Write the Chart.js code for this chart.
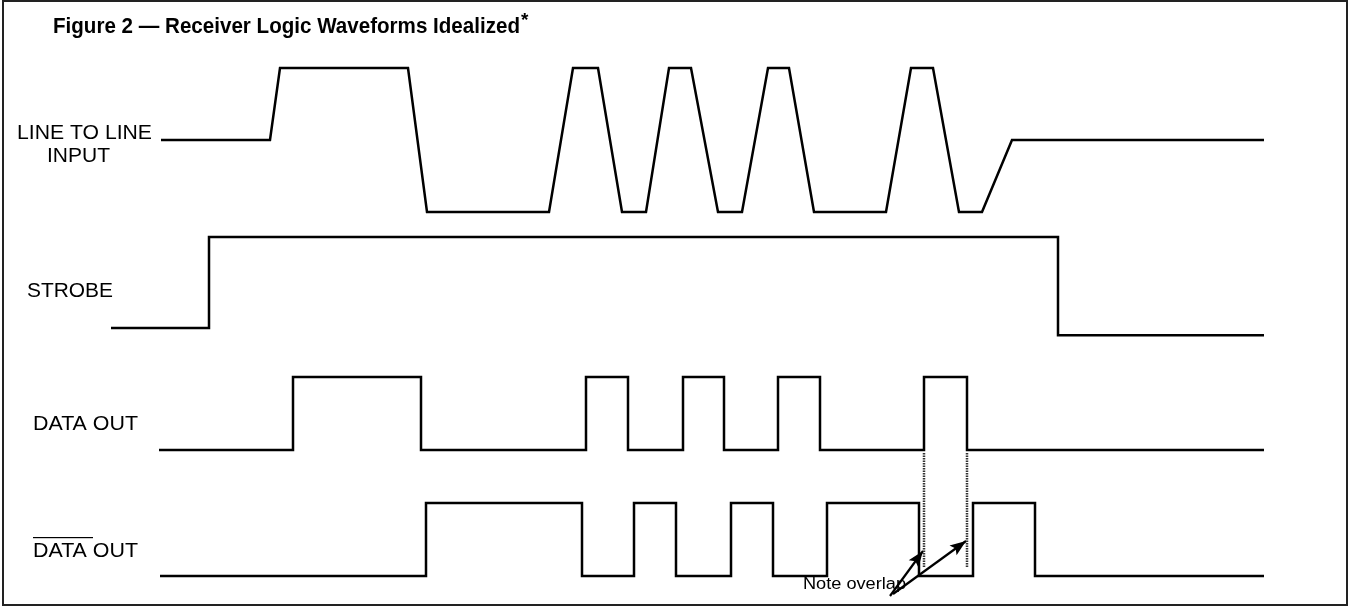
<!DOCTYPE html>
<html>
<head>
<meta charset="utf-8">
<script src="https://cdn.jsdelivr.net/npm/chart.js@4"></script>
<style>
    body { margin: 0; background: #fff; }
    #wrap { width: 1350px; height: 608px; }
</style>
</head>
<body>
<div id="wrap"><canvas id="wave" width="1350" height="608"></canvas></div>
<script>
// ===== Data (time units along x, logic level 0 = low, 1 = high) =====
const lineTimes   = [161, 270, 280, 408, 427, 549, 573, 598, 622, 646, 669, 691, 718, 742, 768, 789, 814, 886, 911, 933, 959, 982, 1012, 1264];
const lineLevels  = [0.5, 0.5, 1, 1, 0, 0, 1, 1, 0, 0, 1, 1, 0, 0, 1, 1, 0, 0, 1, 1, 0, 0, 0.5, 0.5];

const strobeTimes  = [111, 209, 209, 1058, 1058, 1264];
const strobeLevels = [0, 0, 1, 1, -0.08, -0.08];

const dataTimes  = [159, 293, 293, 421, 421, 586, 586, 628, 628, 683, 683, 724, 724, 778, 778, 820, 820, 924, 924, 967, 967, 1264];
const dataLevels = [0, 0, 1, 1, 0, 0, 1, 1, 0, 0, 1, 1, 0, 0, 1, 1, 0, 0, 1, 1, 0, 0];

const dataBarTimes  = [160, 426, 426, 582, 582, 634, 634, 676, 676, 731, 731, 773, 773, 827, 827, 919, 919, 973, 973, 1035, 1035, 1264];
const dataBarLevels = [0, 0, 1, 1, 0, 0, 1, 1, 0, 0, 1, 1, 0, 0, 1, 1, 0, 0, 1, 1, 0, 0];

// overlap markers (dotted) and the two arrows pointing at them
const overlapTimes = [924, 967];
const arrowFrom = [[890, 596], [893, 594]];
const arrowTo   = [[923, 551], [966, 541]];

const rowLabels = ["LINE TO LINE", "INPUT", "STROBE", "DATA OUT", "DATA OUT"];
const titleText = "Figure 2 \u2014 Receiver Logic Waveforms Idealized";
const noteText = "Note overlap";

// ===== Layout =====
const rows = {
    line:    { base: 212, amp: 144 },
    strobe:  { base: 328, amp: 91 },
    data:    { base: 450, amp: 73 },
    dataBar: { base: 576, amp: 73 }
};

function toPoints(times, levels, row) {
    return times.map((t, i) => ({ x: t, y: row.base - levels[i] * row.amp }));
}

function wave(points) {
    return {
        data: points,
        showLine: true,
        borderColor: "#000",
        borderWidth: 2.5,
        pointRadius: 0,
        tension: 0,
        fill: false
    };
}

const datasets = [
    wave(toPoints(lineTimes, lineLevels, rows.line)),
    wave(toPoints(strobeTimes, strobeLevels, rows.strobe)),
    wave(toPoints(dataTimes, dataLevels, rows.data)),
    wave(toPoints(dataBarTimes, dataBarLevels, rows.dataBar))
];

overlapTimes.forEach(t => {
    datasets.push({
        data: [{ x: t, y: 453 }, { x: t, y: 568 }],
        showLine: true,
        borderColor: "#333",
        borderWidth: 2.5,
        borderDash: [1.5, 1],
        pointRadius: 0
    });
});

arrowFrom.forEach((p, i) => {
    datasets.push({
        data: [{ x: p[0], y: p[1] }, { x: arrowTo[i][0], y: arrowTo[i][1] }],
        showLine: true,
        borderColor: "#000",
        borderWidth: 2.2,
        pointRadius: 0,
        arrow: true
    });
});

// ===== Plugins =====
function fitText(ctx, text, x, y, font, width) {
    ctx.font = font;
    const w = ctx.measureText(text).width;
    ctx.save();
    ctx.translate(x, y);
    ctx.scale(width / w, 1);
    ctx.fillText(text, 0, 0);
    ctx.restore();
}

const decor = {
    id: "decor",
    beforeDraw(chart) {
        const ctx = chart.ctx;
        ctx.save();
        ctx.fillStyle = "#fff";
        ctx.fillRect(0, 0, chart.width, chart.height);
        ctx.strokeStyle = "#222";
        ctx.lineWidth = 2;
        ctx.strokeRect(3, 1, 1344, 604);
        ctx.restore();
    },
    afterDatasetsDraw(chart) {
        const ctx = chart.ctx;
        const xs = chart.scales.x, ys = chart.scales.y;

        // arrow heads
        chart.data.datasets.forEach((ds, i) => {
            if (!ds.arrow) return;
            const pts = chart.getDatasetMeta(i).data;
            const a = pts[0], b = pts[pts.length - 1];
            const ang = Math.atan2(b.y - a.y, b.x - a.x);
            const len = 16, half = 6;
            ctx.save();
            ctx.fillStyle = "#000";
            ctx.translate(b.x, b.y);
            ctx.rotate(ang);
            ctx.beginPath();
            ctx.moveTo(0, 0);
            ctx.lineTo(-len, -half);
            ctx.lineTo(-len * 0.8, 0);
            ctx.lineTo(-len, half);
            ctx.closePath();
            ctx.fill();
            ctx.restore();
        });

        ctx.save();
        ctx.fillStyle = "#000";
        ctx.textBaseline = "alphabetic";

        // title
        fitText(ctx, titleText, 53, 33, "bold 21.5px 'Liberation Sans', Arial, sans-serif", 467);
        ctx.font = "bold 19px 'Liberation Sans', Arial, sans-serif";
        ctx.fillText("*", 521, 26);

        // row labels
        const f = "20px 'Liberation Sans', Arial, sans-serif";
        fitText(ctx, rowLabels[0], 17, 139, f, 135);
        fitText(ctx, rowLabels[1], 47, 162, f, 63);
        fitText(ctx, rowLabels[2], 27, 297, f, 86);
        fitText(ctx, rowLabels[3], 33, 430, f, 105);
        fitText(ctx, rowLabels[4], 33, 557, f, 105);
        // overline on DATA
        ctx.fillRect(33, 537, 60, 1.2);

        // note
        fitText(ctx, noteText, xs.getPixelForValue(803), ys.getPixelForValue(589),
            "16px 'Liberation Sans', Arial, sans-serif", 103);
        ctx.restore();
    }
};

// ===== Chart =====
new Chart(document.getElementById("wave").getContext("2d"), {
    type: "scatter",
    data: { datasets },
    options: {
        responsive: false,
        animation: false,
        layout: { padding: 0 },
        plugins: { legend: { display: false }, tooltip: { enabled: false } },
        scales: {
            x: { type: "linear", min: 0, max: 1350, display: false },
            y: { type: "linear", min: 0, max: 608, reverse: true, display: false }
        }
    },
    plugins: [decor]
});
</script>
</body>
</html>
